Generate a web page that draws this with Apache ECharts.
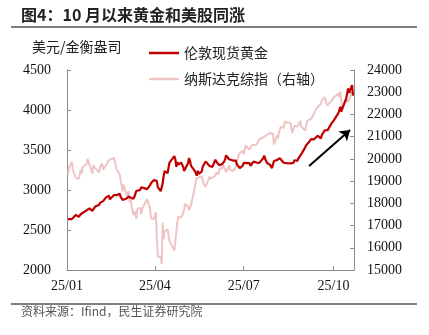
<!DOCTYPE html>
<html><head><meta charset="utf-8">
<script src="https://cdn.jsdelivr.net/npm/echarts@6/dist/echarts.min.js"></script>
<style>html,body{margin:0;padding:0;background:#fff}#c{width:429px;height:335px}</style>
</head><body><div id="c"></div>
<script>
// trading dates (2025, MM-DD)
const dates = [
 '01-02','01-03','01-06','01-07','01-08','01-10','01-13','01-14','01-15','01-16','01-17','01-21','01-22','01-23','01-24','01-27','01-28','01-29','01-30','01-31',
 '02-03','02-04','02-05','02-06','02-07','02-10','02-11','02-12','02-13','02-14','02-18','02-19','02-20','02-21','02-24','02-25','02-26','02-27','02-28',
 '03-03','03-04','03-05','03-06','03-07','03-10','03-11','03-12','03-13','03-14','03-17','03-18','03-19','03-20','03-21','03-24','03-25','03-26','03-27','03-28','03-31',
 '04-01','04-02','04-03','04-04','04-07','04-08','04-09','04-10','04-11','04-14','04-15','04-16','04-17','04-21','04-22','04-23','04-24','04-25','04-28','04-29','04-30',
 '05-01','05-02','05-05','05-06','05-07','05-08','05-09','05-12','05-13','05-14','05-15','05-16','05-19','05-20','05-21','05-22','05-23','05-27','05-28','05-29','05-30',
 '06-02','06-03','06-04','06-05','06-06','06-09','06-10','06-11','06-12','06-13','06-16','06-17','06-18','06-20','06-23','06-24','06-25','06-26','06-27','06-30',
 '07-01','07-02','07-03','07-07','07-08','07-09','07-10','07-11','07-14','07-15','07-16','07-17','07-18','07-21','07-22','07-23','07-24','07-25','07-28','07-29','07-30','07-31',
 '08-01','08-04','08-05','08-06','08-07','08-08','08-11','08-12','08-13','08-14','08-15','08-18','08-19','08-20','08-21','08-22','08-25','08-26','08-27','08-28','08-29',
 '09-02','09-03','09-04','09-05','09-08','09-09','09-10','09-11','09-12','09-15','09-16','09-17','09-18','09-19','09-22','09-23','09-24','09-25','09-26','09-29','09-30',
 '10-01','10-02','10-03','10-06','10-07','10-08','10-09','10-10','10-13','10-14','10-15','10-16','10-17','10-20','10-21'
];
// 伦敦现货黄金 (USD/oz)
const gold = [
 2636,2640,2636,2649,2662,2689,2663,2677,2697,2714,2703,2745,2755,2754,2771,2740,2763,2760,2794,2798,
 2815,2842,2866,2856,2861,2908,2898,2904,2928,2883,2935,2933,2939,2936,2952,2915,2917,2876,2858,
 2893,2918,2920,2910,2910,2889,2915,2934,2988,2984,3001,3034,3047,3043,3023,3011,3019,3019,3057,3085,3124,
 3113,3134,3114,3037,2985,2990,3083,3175,3237,3210,3228,3343,3327,3424,3380,3288,3349,3319,3343,3317,3288,
 3239,3241,3334,3400,3365,3305,3325,3236,3249,3179,3240,3203,3230,3290,3314,3295,3357,3300,3288,3317,3289,
 3380,3353,3373,3352,3310,3325,3323,3355,3386,3433,3384,3388,3369,3368,3369,3323,3332,3327,3274,3303,
 3338,3357,3326,3336,3301,3313,3324,3355,3343,3324,3347,3339,3350,3397,3431,3387,3368,3337,3314,3326,3274,3289,
 3363,3373,3381,3371,3397,3398,3341,3348,3356,3335,3336,3332,3316,3348,3339,3372,3365,3393,3396,3417,3448,
 3533,3560,3545,3587,3636,3625,3640,3634,3643,3679,3690,3660,3644,3685,3746,3763,3736,3749,3760,3833,3858,
 3865,3857,3886,3960,3985,4041,3976,4018,4110,4143,4208,4270,4215,4310,4180
];
// 纳斯达克综指
const nasdaq = [
 19280,19621,19864,19490,19478,19162,19088,19044,19511,19338,19630,19757,20009,20053,19954,19342,19734,19632,19681,19627,
 19392,19654,19692,19791,19523,19714,19643,19649,19945,20026,20041,20056,19962,19524,19286,19026,19075,18544,18847,
 18350,18286,18553,18069,18196,17468,17436,17648,17303,17754,17808,17504,17751,17692,17784,18189,18272,17899,17805,17323,17299,
 17450,17601,16551,15588,15603,15268,17125,16387,16724,16832,16824,16307,16287,15870,16300,16708,17166,17383,17366,17461,17446,
 17711,17978,17844,17690,17738,17929,17929,18708,19010,19146,19112,19211,19215,19143,18873,18925,18737,19199,19101,19175,19114,
 19243,19399,19460,19298,19530,19591,19715,19615,19662,19407,19701,19521,19546,19447,19631,19913,19973,20168,20273,20370,
 20202,20393,20601,20412,20418,20611,20630,20586,20640,20677,20730,20885,20896,20974,20892,21020,21058,21108,21178,21098,21130,21122,
 20650,21053,20916,21169,21242,21450,21385,21681,21713,21710,21622,21630,21315,21172,21100,21496,21449,21544,21590,21705,21455,
 21279,21498,21707,21700,21798,21879,21886,22043,22141,22348,22333,22261,22470,22631,22789,22573,22497,22384,22484,22592,22660,
 22755,22845,22780,22941,22789,23043,23024,22204,22695,22521,22670,22562,22680,22990,22953
];
const xTicks = ['2025-01-01','2025-04-01','2025-07-01','2025-10-01'];
const xRange = ['2025-01-01','2025-10-22'];
const leftAxis = {min:2000, max:4500, interval:500};
const rightAxis = {min:15000, max:24000, interval:1000};
const arrowFrom = ['2025-09-06', 3300];
const arrowTo = ['2025-10-18', 3750];
const seriesNames = ['伦敦现货黄金','纳斯达克综指（右轴）'];

const serif = "'Liberation Serif', 'Times New Roman', Tinos, 'DejaVu Serif', 'Noto Serif', serif";
const sans = 'Noto Sans CJK SC';
const ts = s => Date.UTC(+s.slice(0,4), +s.slice(5,7)-1, +s.slice(8,10));
const full = d => '2025-' + d;
const goldData = dates.map((d,i)=>[ts(full(d)), gold[i]]);
const nasData = dates.map((d,i)=>[ts(full(d)), nasdaq[i]]);
const tickVals = xTicks.map(ts);

const chart = echarts.init(document.getElementById('c'), null, {renderer:'canvas'});
const axisLine = {show:true, lineStyle:{color:'#8c8c8c', width:1}};
const tick = {show:true, inside:true, length:4, lineStyle:{color:'#8c8c8c'}};
const numText = {fontFamily:serif, fontSize:14, color:'#111'};
const numLabel = {fontFamily:serif, fontSize:14, color:'#111', rich:{n:numText}};
chart.setOption({
  animation:false,
  backgroundColor:'#fff',
  grid:{left:67, right:75, top:70, bottom:65, containLabel:false},
  legend:{
    data:seriesNames, orient:'vertical', left:144, top:41, itemGap:12,
    icon:'rect', itemWidth:30, itemHeight:2.5, selectedMode:false,
    textStyle:{fontFamily:sans, fontSize:14, color:'#222'}
  },
  xAxis:{
    type:'value', min:ts(xRange[0]), max:ts(xRange[1]),
    axisLine:axisLine,
    axisTick:Object.assign({customValues:tickVals}, tick),
    axisLabel:Object.assign({margin:9, customValues:tickVals,
      formatter:v=>{const d=new Date(v); return '{n|'+String(d.getUTCFullYear()).slice(2)+'/'+String(d.getUTCMonth()+1).padStart(2,'0')+'}';}}, numLabel),
    splitLine:{show:false}
  },
  yAxis:[
    {type:'value', min:leftAxis.min, max:leftAxis.max, interval:leftAxis.interval,
     axisLine:axisLine, axisTick:tick,
     axisLabel:Object.assign({margin:16, formatter:v=>'{n|'+v+'}'}, numLabel), splitLine:{show:false}},
    {type:'value', min:rightAxis.min, max:rightAxis.max, interval:rightAxis.interval, position:'right',
     axisLine:axisLine, axisTick:tick,
     axisLabel:Object.assign({margin:13, formatter:v=>'{n|'+v+'}'}, numLabel), splitLine:{show:false}}
  ],
  series:[
    {name:seriesNames[1], type:'line', yAxisIndex:1, data:nasData, symbol:'none',
     lineStyle:{color:'#EFC4C4', width:2}, itemStyle:{color:'#EFC4C4'}, z:2},
    {name:seriesNames[0], type:'line', yAxisIndex:0, data:goldData, symbol:'none',
     lineStyle:{color:'#C00000', width:2.2}, itemStyle:{color:'#C00000'}, z:3,
     markLine:{silent:true, symbol:['none','arrow'], symbolSize:10, label:{show:false},
       lineStyle:{color:'#000', width:2, type:'solid'},
       data:[[{coord:[ts(arrowFrom[0]), arrowFrom[1]]},{coord:[ts(arrowTo[0]), arrowTo[1]]}]]}}
  ],
  graphic:[
    {type:'text', left:21, top:7, style:{text:'图4：10 月以来黄金和美股同涨', fontFamily:sans, fontSize:16, fontWeight:'bold', fill:'#222'}},
    {type:'rect', shape:{x:11, y:26, width:406, height:2}, style:{fill:'#7f7f7f'}},
    {type:'text', left:32, top:40, style:{text:'美元/金衡盎司', fontFamily:sans, fontSize:14, fill:'#222'}},
    {type:'rect', shape:{x:11, y:303, width:406, height:2}, style:{fill:'#7f7f7f'}},
    {type:'text', left:21, top:305, style:{text:'资料来源：Ifind，民生证券研究院', fontFamily:sans, fontSize:12, fill:'#555'}}
  ]
});
</script></body></html>
